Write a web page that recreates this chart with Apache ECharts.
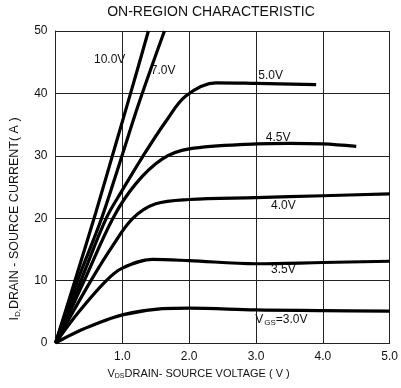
<!DOCTYPE html>
<html>
<head>
<meta charset="utf-8">
<script src="https://cdn.jsdelivr.net/npm/echarts@6/dist/echarts.min.js"></script>
<style>html,body{margin:0;padding:0;background:#fff}#c{width:401px;height:388px}</style>
</head>
<body>
<div id="c"></div>
<script>
var title = 'ON-REGION CHARACTERISTIC';
var xTicks = [0, 1, 2, 3, 4, 5];
var yTicks = [0, 10, 20, 30, 40, 50];
var curveNames = ['10.0V', '7.0V', '5.0V', '4.5V', '4.0V', '3.5V', '3.0V'];
var v10 = [[0,0],[0.3,10.3],[0.6,20.8],[0.9,31.8],[1.15,41],[1.39,50]];
var v7 = [[0,0],[0.33,10],[0.69,20],[0.95,28.5],[1.25,38.5],[1.63,50]];
var v5 = [[0,0],[0.38,10],[0.76,20],[1.0,24.5],[1.3,29.8],[1.65,35.5],[1.95,39.6],[2.4,41.7],[3.0,41.6],[3.9,41.4]];
var v45 = [[0,0],[0.43,10],[0.86,20],[1.2,25.5],[1.6,29.5],[2.0,31.1],[3.0,31.9],[3.5,32],[4.0,31.9],[4.5,31.5]];
var v4 = [[0,0],[0.53,10],[0.85,15.5],[1.16,20],[1.5,22.3],[2.0,23],[3.0,23.3],[4.0,23.6],[5.0,23.9]];
var v35 = [[0,0],[0.35,5],[0.76,10],[1.0,12],[1.45,13.4],[2.0,13.2],[3.0,12.7],[4.0,12.9],[5.0,13.1]];
var v3 = [[0,0],[0.25,1.4],[0.5,2.6],[1.0,4.5],[1.6,5.5],[2.0,5.6],[3.0,5.3],[4.0,5.2],[5.0,5.1]];
var curveData = [v10, v7, v5, v45, v4, v35, v3];
// label anchor in data units
var labelAt = [[0.81,45.4],[1.61,43.6],[3.22,42.9],[3.33,32.9],[3.41,22.0],[3.41,11.7],[3.38,3.7]];
var labelText = ['10.0V','7.0V','5.0V','4.5V','4.0V','3.5V','{m|V}{s|GS}{m|=3.0V}'];

var FONT = '"Liberation Sans", Arial, sans-serif';
var series = curveData.map(function (d, i) {
  return {
    type: 'line',
    name: curveNames[i],
    data: d,
    showSymbol: false,
    smooth: 0.35,
    lineStyle: { color: '#000', width: 3.2 },
    silent: true,
    markPoint: {
      symbol: 'circle', symbolSize: 0,
      data: [{ coord: labelAt[i] }],
      label: {
        show: true, position: 'inside', formatter: labelText[i],
        color: '#111', fontSize: 12, fontFamily: FONT, letterSpacing: -0.5,
        rich: {
          m: { fontSize: 12, fontFamily: FONT, color: '#111', letterSpacing: -0.5 },
          s: { fontSize: 8, fontFamily: FONT, color: '#111', padding: [6, 0, 0, 1] }
        }
      }
    }
  };
});

var chart = echarts.init(document.getElementById('c'), null, { renderer: 'canvas' });
chart.setOption({
  animation: false,
  title: {
    text: title, left: 206, top: 0, textAlign: 'center',
    textStyle: { fontSize: 14, fontWeight: 'normal', fontFamily: FONT, color: '#111', letterSpacing: -0.7 }
  },
  grid: { left: 53, right: 9, top: 31, bottom: 45 },
  xAxis: {
    type: 'value', min: xTicks[0], max: xTicks[xTicks.length - 1], interval: 1,
    axisLine: { show: true, lineStyle: { color: '#222', width: 1 } },
    axisTick: { show: false },
    splitLine: { show: true, lineStyle: { color: '#222', width: 1 } },
    axisLabel: {
      margin: 8, color: '#111', fontSize: 12, fontFamily: FONT,
      formatter: function (v) { return v === 0 ? '' : v.toFixed(1); }
    },
    name: '{m|V}{s|DS}{m|DRAIN- SOURCE VOLTAGE ( V )}',
    nameLocation: 'middle', nameGap: 24,
    nameTextStyle: {
      padding: [0, 48, 0, 0],
      rich: {
        m: { fontSize: 11, fontFamily: FONT, color: '#111', letterSpacing: -0.5 },
        s: { fontSize: 7, fontFamily: FONT, color: '#111', padding: [6, 0, 0, 0] }
      }
    }
  },
  yAxis: {
    type: 'value', min: yTicks[0], max: yTicks[yTicks.length - 1], interval: 10,
    axisLine: { show: true, lineStyle: { color: '#222', width: 1 } },
    axisTick: { show: false },
    splitLine: { show: true, lineStyle: { color: '#222', width: 1 } },
    axisLabel: { margin: 8, color: '#111', fontSize: 12, fontFamily: FONT },
    name: '{m|I}{s|D,}{m|DRAIN - SOURCE CURRENT( A )}',
    nameLocation: 'middle', nameGap: 34, nameRotate: 90,
    nameTextStyle: {
      padding: [0, 64, 0, 0],
      rich: {
        m: { fontSize: 12.5, fontFamily: FONT, color: '#111', letterSpacing: -0.4 },
        s: { fontSize: 8, fontFamily: FONT, color: '#111', padding: [6, 0, 0, 0] }
      }
    }
  },
  series: series
});
</script>
</body>
</html>
